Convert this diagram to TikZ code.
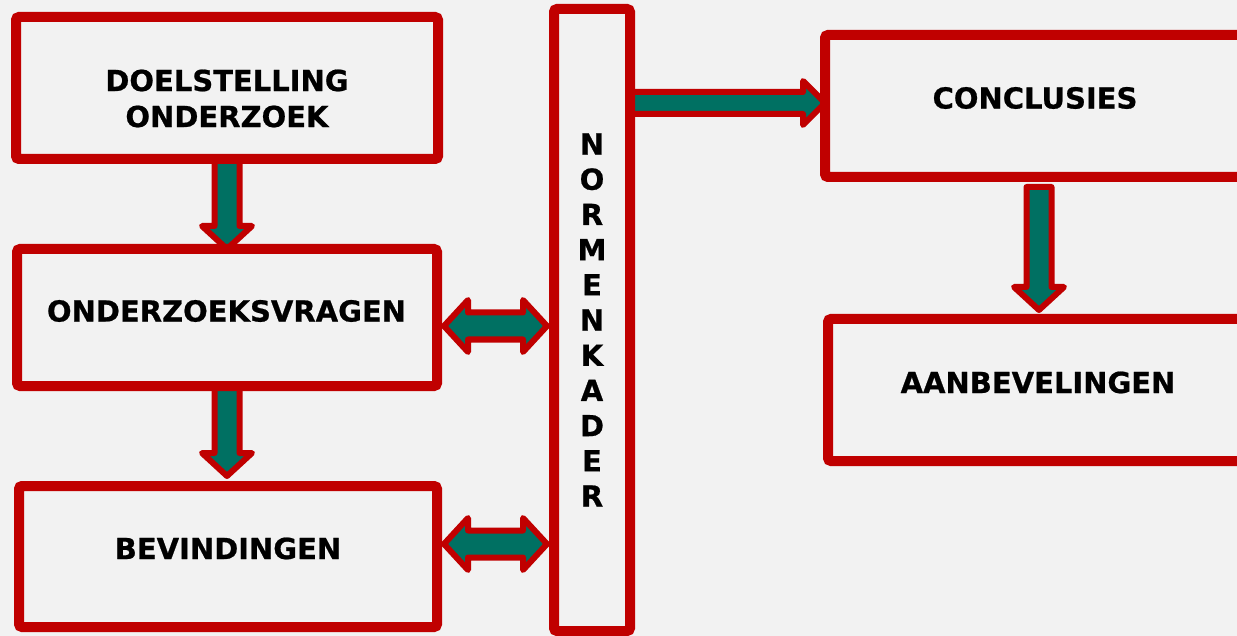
\documentclass[tikz,border=0pt]{standalone}
\usepackage{fontspec}
\setmainfont{DejaVu Sans}[BoldFeatures={FakeBold=0.7}]
\usetikzlibrary{calc}
\definecolor{boxred}{HTML}{C00000}
\definecolor{tealfill}{HTML}{007062}
\definecolor{bgcol}{HTML}{F2F2F2}
\pgfdeclarelayer{bgl}
\pgfdeclarelayer{arr}
\pgfsetlayers{bgl,arr,main}
\newcommand{\dnarrow}[2]{\draw[blk] let \p1=(#1), \p2=(#2) in
  (\x1-12.5pt,\y1) -- (\x1+12.5pt,\y1) -- (\x1+12.5pt,\y2+23pt) -- (\x1+25pt,\y2+23pt)
  -- (\x1,\y2) -- (\x1-25pt,\y2+23pt) -- (\x1-12.5pt,\y2+23pt) -- cycle;}
\newcommand{\rtarrow}[2]{\draw[blk] let \p1=(#1), \p2=(#2) in
  (\x1,\y1+11pt) -- (\x2-22pt,\y1+11pt) -- (\x2-22pt,\y1+22pt) -- (\x2,\y1)
  -- (\x2-22pt,\y1-22pt) -- (\x2-22pt,\y1-11pt) -- (\x1,\y1-11pt) -- cycle;}
\newcommand{\dbarrow}[2]{\draw[blk] let \p1=(#1), \p2=(#2) in
  (\x1,\y1) -- (\x1+24pt,\y1+26pt) -- (\x1+24pt,\y1+13.5pt) -- (\x2-24pt,\y1+13.5pt)
  -- (\x2-24pt,\y1+26pt) -- (\x2,\y1) -- (\x2-24pt,\y1-26pt) -- (\x2-24pt,\y1-13.5pt)
  -- (\x1+24pt,\y1-13.5pt) -- (\x1+24pt,\y1-26pt) -- cycle;}
\begin{document}
\begin{tikzpicture}[x=1pt,y=-1pt,
  box/.style={draw=boxred, line width=10pt, fill=bgcol, rounded corners=3pt, inner sep=0pt, outer sep=0pt},
  lbl/.style={font=\bfseries\fontsize{29}{36}\selectfont, inner sep=0pt, align=center, text=black},
  vlbl/.style={font=\bfseries\fontsize{29}{35.2}\selectfont, inner sep=0pt, align=center, text=black},
  blk/.style={draw=boxred, fill=tealfill, line width=6pt, line join=round}]
\useasboundingbox (0,0) rectangle (1237,636);
% boxes
\node[box, minimum width=422, minimum height=142] (doel) at (227,88) {};
\node[box, minimum width=420, minimum height=137] (vragen) at (227,317.5) {};
\node[box, minimum width=418, minimum height=141] (bev) at (228,556.5) {};
\node[box, minimum width=76, minimum height=622] (normen) at (592,320) {};
\node[box, minimum width=420, minimum height=142] (concl) at (1035,106) {};
\node[box, minimum width=420, minimum height=142] (aanb) at (1038,390) {};
% texts
\node[lbl] (tdoel) at (227,98.5) {DOELSTELLING\\ONDERZOEK};
\node[lbl] (tvragen) at (226.5,311) {ONDERZOEKSVRAGEN};
\node[lbl] (tbev) at (228,548.5) {BEVINDINGEN};
\node[lbl] (tconcl) at (1035,98) {CONCLUSIES};
\node[lbl] (taanb) at (1038,382.5) {AANBEVELINGEN};
\node[vlbl] (tnormen) at (592,320) {N\\O\\R\\M\\E\\N\\K\\A\\D\\E\\R};
% connector end points
\coordinate (a2tip) at ($(bev.north)+(0,-10)$);
\coordinate (a3start) at ($(concl.south)+(4,10)$);
\coordinate (a3tip) at ($(aanb.north)+(1,-9)$);
\coordinate (rstart) at ($(normen.north east)+(-30,94)$);
\coordinate (rtip) at ($(concl.west)+(0,-3)$);
\coordinate (d1l) at ($(vragen.east)+(7,8.5)$);
\coordinate (d1r) at ($(normen.west |- vragen.east)+(-7,8.5)$);
\coordinate (d2l) at ($(bev.east)+(7,-12.5)$);
\coordinate (d2r) at ($(normen.west |- bev.east)+(-7,-12.5)$);
\begin{pgfonlayer}{arr}
\dnarrow{doel.south}{vragen.north}
\dnarrow{vragen.south}{a2tip}
\dnarrow{a3start}{a3tip}
\rtarrow{rstart}{rtip}
\dbarrow{d1l}{d1r}
\dbarrow{d2l}{d2r}
\end{pgfonlayer}
\begin{pgfonlayer}{bgl}
\fill[bgcol] (0,0) rectangle (1237,636);
\end{pgfonlayer}
\end{tikzpicture}
\end{document}
